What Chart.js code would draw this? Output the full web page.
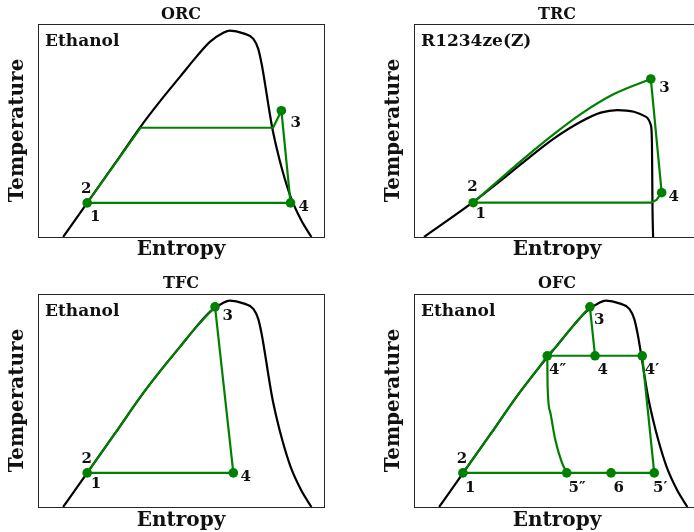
<!DOCTYPE html>
<html>
<head>
<meta charset="utf-8">
<title>T-s diagrams: ORC, TRC, TFC, OFC</title>
<script src="https://cdn.jsdelivr.net/npm/chart.js@4.4.1/dist/chart.umd.min.js"></script>
<style>
    html, body { margin: 0; padding: 0; background: #fff; overflow: hidden; }
    #fig { position: relative; width: 694px; height: 532px; overflow: hidden; }
    #fig canvas { position: absolute; }
</style>
</head>
<body>
<div id="fig">
    <canvas id="orcChart" width="347" height="266" style="left:0;top:0"></canvas>
    <canvas id="trcChart" width="360" height="266" style="left:347px;top:0"></canvas>
    <canvas id="tfcChart" width="347" height="266" style="left:0;top:266px"></canvas>
    <canvas id="ofcChart" width="360" height="266" style="left:347px;top:266px"></canvas>
</div>
<script>
// ============================================
// Data (entropy / temperature, axes run 0..100)
// ============================================

// saturation dome of ethanol (ORC, TFC, OFC)
const ethDomeS = [8.8, 17.2, 26.8, 35.7, 42.7, 49.7, 55.5, 60.1, 64.8, 67.1, 71.8, 75.3, 77.0, 78.2, 79.4, 80.5, 81.8, 83.4, 85.5, 88.3, 92.0, 95.6];
const ethDomeT = [0, 16.0, 34.3, 51.5, 63.8, 75.3, 84.8, 91.6, 95.9, 96.9, 95.6, 93.0, 88.3, 81.2, 71.8, 62.4, 52.0, 42.0, 31.0, 19.0, 8.0, 0];

// saturation dome of R1234ze(Z) (TRC)
const r1234DomeS = [3.5, 20.4, 29.1, 38.5, 49.0, 58.3, 65.3, 71.1, 76.9, 81.0, 82.8, 83.2, 83.3, 83.4, 83.6];
const r1234DomeT = [0, 16.1, 25.2, 35.4, 46.3, 54.1, 58.4, 59.6, 58.8, 56.5, 52.6, 44.0, 28.3, 12.7, 0];

// ORC: 1 -> 2 -> boiling -> 3 -> 4 -> 1
const orcCycleS = [17.2, 35.9, 82.2, 85.1, 88.3, 17.2];
const orcCycleT = [16.0, 51.3, 51.3, 59.3, 16.0, 16.0];
const orcPointS = [17.2, 85.1, 88.3];
const orcPointT = [16.0, 59.3, 16.0];
const orcLabels = ['2', '1', '3', '4'];
const orcLabelS = [16.9, 20.0, 90.1, 92.9];
const orcLabelT = [22.5, 9.5, 53.4, 14.2];

// TRC: supercritical heating 2 -> 3, then 3 -> 4 -> 1
const trcHeatS = [20.7, 29.1, 38.5, 49.0, 58.3, 69.9, 82.8];
const trcHeatT = [16.1, 26.0, 36.9, 48.4, 57.7, 67.1, 74.2];
const trcCycleS = [82.8, 86.6, 84.8, 82.8, 20.7];
const trcCycleT = [74.2, 20.8, 17.4, 16.1, 16.1];
const trcPointS = [20.7, 82.8, 86.6];
const trcPointT = [16.1, 74.2, 20.8];
const trcLabels = ['2', '1', '3', '4'];
const trcLabelS = [20.4, 23.3, 87.6, 90.8];
const trcLabelT = [23.6, 10.8, 69.8, 18.6];

// TFC: heating along saturated liquid 2 -> 3, then 3 -> 4 -> 1
const tfcHeatS = [17.2, 26.8, 35.7, 42.7, 49.7, 55.5, 61.9];
const tfcHeatT = [16.0, 34.3, 51.5, 63.8, 75.3, 84.8, 94.0];
const tfcCycleS = [61.9, 68.3, 17.2];
const tfcCycleT = [94.0, 16.0, 16.0];
const tfcPointS = [17.2, 61.9, 68.3];
const tfcPointT = [16.0, 94.0, 16.0];
const tfcLabels = ['2', '1', '3', '4'];
const tfcLabelS = [17.0, 20.3, 66.3, 72.6];
const tfcLabelT = [22.7, 10.7, 89.7, 13.8];

// OFC: heating 2 -> 3, flash 3 -> 4, separation 4'' / 4', expansions to 5'' / 5'
const ofcHeatS = [17.1, 26.8, 35.7, 42.7, 46.6, 49.7, 55.5, 61.5];
const ofcHeatT = [16.0, 34.3, 51.5, 63.8, 70.8, 75.3, 84.8, 94.0];
const ofcOuterS = [61.5, 63.3, 79.8, 84.0, 17.1];
const ofcOuterT = [94.0, 71.0, 71.0, 16.0, 16.0];
const ofcFlashS = [46.6, 63.3];
const ofcFlashT = [71.0, 71.0];
const ofcLiqExpS = [46.6, 46.7, 47.6, 49.3, 51.6, 53.4];
const ofcLiqExpT = [71.0, 57.3, 44.7, 32.2, 21.3, 16.0];
const ofcPointS = [17.1, 61.5, 46.6, 63.3, 79.8, 53.4, 68.9, 84.0];
const ofcPointT = [16.0, 94.0, 71.0, 71.0, 71.0, 16.0, 16.0, 16.0];
const ofcLabels = ['2', '1', '3', '4\u2033', '4', '4\u2032', '5\u2033', '6', '5\u2032'];
const ofcLabelS = [16.8, 19.7, 64.8, 50.2, 66.0, 83.2, 57.0, 71.6, 86.1];
const ofcLabelT = [22.7, 9.1, 87.8, 64.3, 64.3, 64.3, 9.1, 9.1, 9.1];

// ============================================
// Helpers
// ============================================

const GREEN = '#008000';
const INK = '#111';
const SERIF = '"DejaVu Serif", serif';

Chart.defaults.color = INK;
Chart.defaults.font.family = SERIF;

const pts = (s, t) => s.map((v, i) => ({ x: v, y: t[i] }));

// smooth = monotone cubic through the points, otherwise straight segments
function curve(s, t, color, smooth) {
    return {
        data: pts(s, t),
        borderColor: color,
        borderWidth: 2.2,
        pointRadius: 0,
        tension: smooth ? 0.4 : 0,
        cubicInterpolationMode: smooth ? 'monotone' : 'default',
        fill: false,
        clip: 0,
        xAxisID: 'x',
        yAxisID: 'y'
    };
}

function markers(s, t) {
    return {
        data: pts(s, t),
        showLine: false,
        pointRadius: 4.8,
        pointBackgroundColor: GREEN,
        pointBorderColor: GREEN,
        pointBorderWidth: 0,
        xAxisID: 'x',
        yAxisID: 'y'
    };
}

// state numbers and fluid name, placed through the chart's own scales
function labelPlugin(texts, s, t, fluid) {
    return {
        id: 'stateLabels',
        afterDatasetsDraw(chart) {
            const { ctx, chartArea, scales } = chart;
            ctx.save();
            ctx.fillStyle = INK;
            ctx.font = 'bold 15px ' + SERIF;
            ctx.textAlign = 'center';
            ctx.textBaseline = 'middle';
            texts.forEach((txt, i) => {
                ctx.fillText(txt, scales.x.getPixelForValue(s[i]), scales.y.getPixelForValue(t[i]));
            });
            ctx.font = 'bold 17px ' + SERIF;
            ctx.textAlign = 'left';
            ctx.textBaseline = 'alphabetic';
            ctx.fillText(fluid, chartArea.left + 7, chartArea.top + 22);
            ctx.restore();
        }
    };
}

function frameAxis(position, size, title, pad) {
    const horizontal = position === 'top' || position === 'bottom';
    return {
        type: 'linear',
        position: position,
        min: 0,
        max: 1,
        ticks: { display: false },
        grid: { display: false },
        border: { display: true, color: '#262626', width: 1 },
        title: {
            display: !!title,
            text: title || '',
            font: { size: 16, weight: 'bold', lineHeight: 1 },
            padding: { top: pad || 0, bottom: 0 }
        },
        afterFit: horizontal ? (sc => { sc.height = size; }) : (sc => { sc.width = size; })
    };
}

// m: chart area margins inside the canvas and title offsets
function makeChart(id, title, m, datasets, labels) {
    const ctx = document.getElementById(id).getContext('2d');
    return new Chart(ctx, {
        type: 'line',
        data: { datasets: datasets },
        options: {
            responsive: false,
            animation: false,
            devicePixelRatio: 1,
            events: [],
            layout: { padding: 0 },
            plugins: { legend: { display: false }, tooltip: { enabled: false }, title: { display: false } },
            scales: {
                x: {
                    type: 'linear', position: 'bottom', min: 0, max: 100,
                    ticks: { display: false }, grid: { display: false },
                    border: { display: true, color: '#262626', width: 1 },
                    title: { display: true, text: 'Entropy', font: { size: 20, weight: 'bold', lineHeight: 1 }, padding: { top: 0, bottom: m.xPad } },
                    afterFit: sc => { sc.height = m.bottom; }
                },
                y: {
                    type: 'linear', position: 'left', min: 0, max: 100,
                    ticks: { display: false }, grid: { display: false },
                    border: { display: true, color: '#262626', width: 1 },
                    title: { display: true, text: 'Temperature', font: { size: 20, weight: 'bold', lineHeight: 1 }, padding: { top: m.yPad, bottom: 0 } },
                    afterFit: sc => { sc.width = m.left; }
                },
                xTop: frameAxis('top', m.top, title, m.tPad),
                yRight: frameAxis('right', m.right)
            }
        },
        plugins: [labels]
    });
}

// ============================================
// Panels
// ============================================

const topLeftBox = { left: 38, top: 24, right: 23, bottom: 29, yPad: 8, xPad: 6, tPad: 7 };
const topRightBox = { left: 67, top: 24, right: 7, bottom: 29, yPad: 36.5, xPad: 6, tPad: 7 };
const botLeftBox = { left: 38, top: 28, right: 23, bottom: 25, yPad: 8, xPad: 1, tPad: 10 };
const botRightBox = { left: 67, top: 28, right: 7, bottom: 25, yPad: 36.5, xPad: 1, tPad: 10 };

makeChart('orcChart', 'ORC', topLeftBox, [
    markers(orcPointS, orcPointT),
    curve(orcCycleS, orcCycleT, GREEN, false),
    curve(ethDomeS, ethDomeT, '#000', true)
], labelPlugin(orcLabels, orcLabelS, orcLabelT, 'Ethanol'));

makeChart('trcChart', 'TRC', topRightBox, [
    markers(trcPointS, trcPointT),
    curve(trcHeatS, trcHeatT, GREEN, true),
    curve(trcCycleS, trcCycleT, GREEN, false),
    curve(r1234DomeS, r1234DomeT, '#000', true)
], labelPlugin(trcLabels, trcLabelS, trcLabelT, 'R1234ze(Z)'));

makeChart('tfcChart', 'TFC', botLeftBox, [
    markers(tfcPointS, tfcPointT),
    curve(tfcHeatS, tfcHeatT, GREEN, true),
    curve(tfcCycleS, tfcCycleT, GREEN, false),
    curve(ethDomeS, ethDomeT, '#000', true)
], labelPlugin(tfcLabels, tfcLabelS, tfcLabelT, 'Ethanol'));

makeChart('ofcChart', 'OFC', botRightBox, [
    markers(ofcPointS, ofcPointT),
    curve(ofcHeatS, ofcHeatT, GREEN, true),
    curve(ofcOuterS, ofcOuterT, GREEN, false),
    curve(ofcFlashS, ofcFlashT, GREEN, false),
    curve(ofcLiqExpS, ofcLiqExpT, GREEN, true),
    curve(ethDomeS, ethDomeT, '#000', true)
], labelPlugin(ofcLabels, ofcLabelS, ofcLabelT, 'Ethanol'));
</script>
</body>
</html>
